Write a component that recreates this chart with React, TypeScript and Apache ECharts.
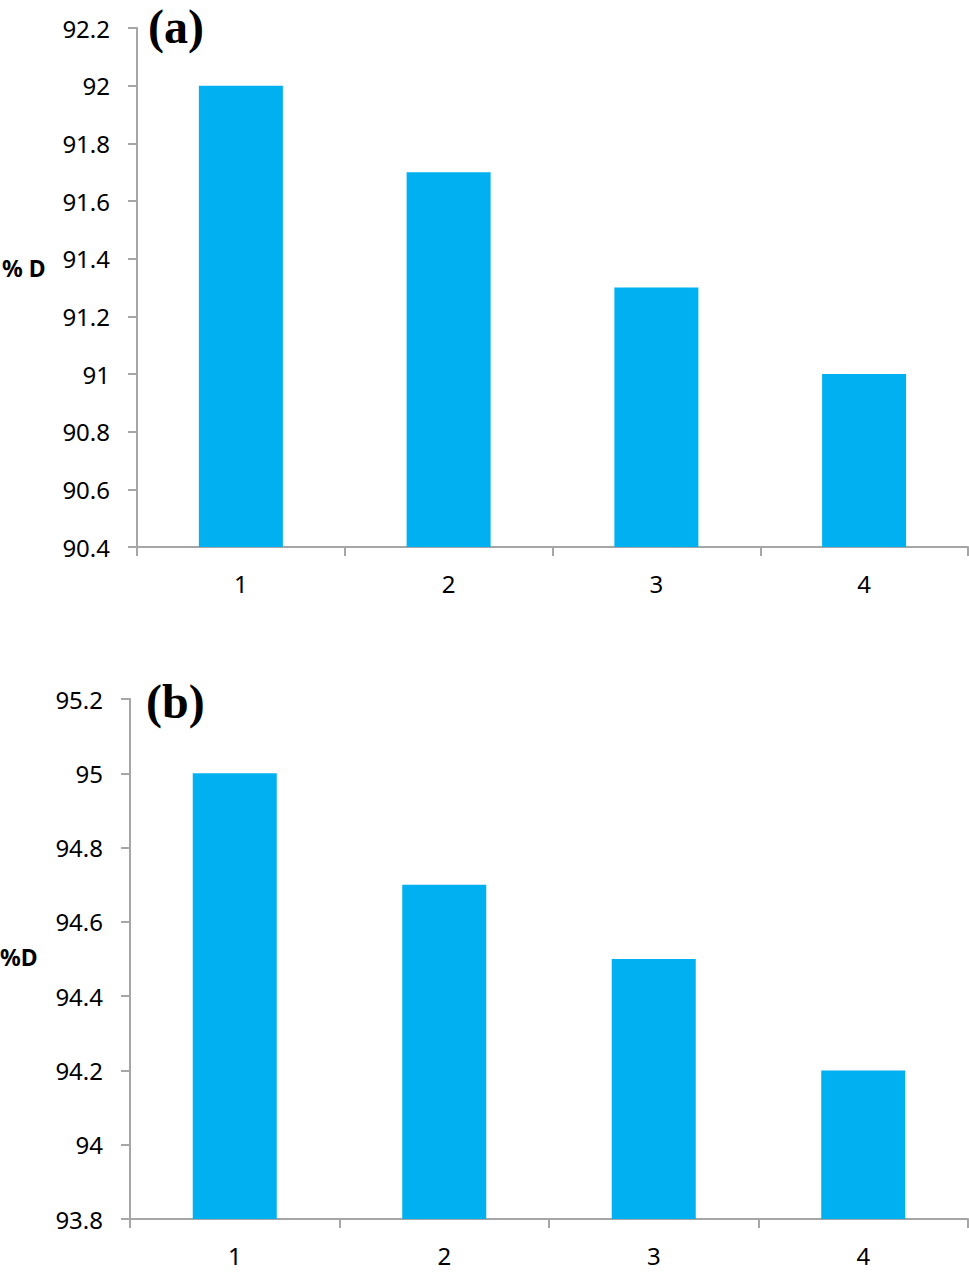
import React, { useEffect, useRef } from "react";
import * as echarts from "echarts";

const categories = ["1", "2", "3", "4"];
const valuesA = [92.0, 91.7, 91.3, 91.0];
const valuesB = [95.0, 94.7, 94.5, 94.2];
const axisA = { min: 90.4, max: 92.2, interval: 0.2 };
const axisB = { min: 93.8, max: 95.2, interval: 0.2 };

const AXIS_COLOR = "#A6A6A6";
const BAR_COLOR = "#00B0F0";
const FONT = "Noto Sans";

function fmt(v: number) {
  return String(Math.round(v * 10) / 10);
}

export default function App() {
  const ref = useRef<HTMLDivElement>(null);
  useEffect(() => {
    if (!ref.current) return;
    const chart = echarts.init(ref.current, undefined, { renderer: "svg" });
    const xAxisBase = (gridIndex: number) => ({
      type: "category" as const,
      gridIndex,
      data: categories,
      axisLine: { show: true, lineStyle: { color: AXIS_COLOR, width: 2 } },
      axisTick: { show: true, length: 9, lineStyle: { color: AXIS_COLOR, width: 2 } },
      axisLabel: { color: "#000", fontSize: 24, fontFamily: FONT, margin: 24 },
      splitLine: { show: false },
    });
    const yAxisBase = (gridIndex: number, a: { min: number; max: number; interval: number }) => ({
      type: "value" as const,
      gridIndex,
      min: a.min,
      max: a.max,
      interval: a.interval,
      axisLine: { show: true, lineStyle: { color: AXIS_COLOR, width: 2 } },
      axisTick: { show: true, length: 9, lineStyle: { color: AXIS_COLOR, width: 2 } },
      axisLabel: { color: "#000", fontSize: 24, fontFamily: FONT, margin: 27, formatter: (v: number) => fmt(v) },
      splitLine: { show: false },
    });
    chart.setOption({
      animation: false,
      backgroundColor: "#fff",
      grid: [
        { left: 137, top: 28, width: 831, height: 519 },
        { left: 130, top: 699, width: 838, height: 520 },
      ],
      xAxis: [xAxisBase(0), xAxisBase(1)],
      yAxis: [yAxisBase(0, axisA), yAxisBase(1, axisB)],
      series: [
        { type: "bar", xAxisIndex: 0, yAxisIndex: 0, data: valuesA, barWidth: 84, itemStyle: { color: BAR_COLOR } },
        { type: "bar", xAxisIndex: 1, yAxisIndex: 1, data: valuesB, barWidth: 84, itemStyle: { color: BAR_COLOR } },
      ],
      graphic: [
        { type: "text", left: 148, top: 2, style: { text: "(a)", font: "bold 48px 'Liberation Serif'", fill: "#000" } },
        { type: "text", left: 146, top: 677, style: { text: "(b)", font: "bold 48px 'Liberation Serif'", fill: "#000" } },
        { type: "text", left: 2, top: 256, style: { text: "% D", font: "bold 23px 'Noto Sans'", fill: "#000" } },
        { type: "text", left: 0, top: 945, style: { text: "%D", font: "bold 23px 'Noto Sans'", fill: "#000" } },
      ],
    });
    return () => chart.dispose();
  }, []);
  return <div ref={ref} style={{ position: "fixed", left: 0, top: 0, width: 969, height: 1274 }} />;
}
